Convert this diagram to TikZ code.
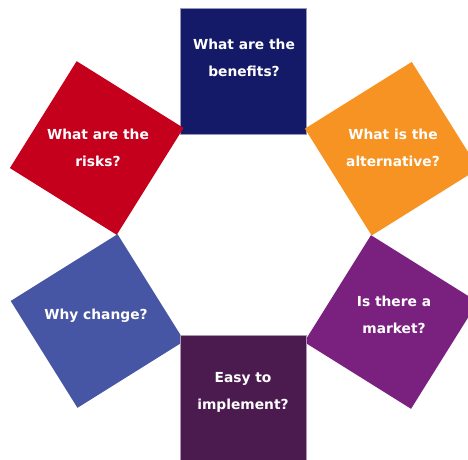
\documentclass[tikz,border=0pt]{standalone}
\usepackage{fontspec}
\setmainfont{DejaVu Sans}
\usepackage{tikz}
\definecolor{qnavy}{HTML}{141A68}
\definecolor{qred}{HTML}{C5001C}
\definecolor{qorange}{HTML}{F69322}
\definecolor{qplum}{HTML}{7A2180}
\definecolor{qblue}{HTML}{4655A4}
\definecolor{qgrape}{HTML}{4B1B50}

\begin{document}
\begin{tikzpicture}[x=1pt, y=-1pt,
        tile/.style={minimum size=126pt, inner sep=0pt, outer sep=0pt},
        ask/.style={text=white, align=center, font=\bfseries\fontsize{13.8}{27}\selectfont}]
            \useasboundingbox (0, 0) rectangle (468, 459);
            \clip (0, 0) rectangle (468, 459);
            % the six squares round the hexagon
            \node[tile, fill=qnavy, draw=qnavy!45, line width=0.6pt] (benefits) at (243, 71.5) {};
            \node[tile, fill=qred, rotate=-32] (risks) at (96.7, 148) {};
            \node[tile, fill=qorange, rotate=32] (alternative) at (391.7, 148.7) {};
            \node[tile, fill=qblue, rotate=32] (change) at (97.5, 321) {};
            \node[tile, fill=qplum, rotate=-32] (market) at (391, 322) {};
            \node[tile, fill=qgrape, draw=qgrape!45, line width=0.6pt] (implement) at (243, 398) {};

            \node[ask] at (244, 58) {What are the\\benefits?};
            \node[ask] at (98, 148) {What are the\\risks?};
            \node[ask] at (393, 148) {What is the\\alternative?};
            \node[ask] at (96, 316) {Why change?};
            \node[ask] at (394, 315) {Is there a\\market?};
            \node[ask] at (243, 392) {Easy to\\implement?};
        \end{tikzpicture}
\end{document}
